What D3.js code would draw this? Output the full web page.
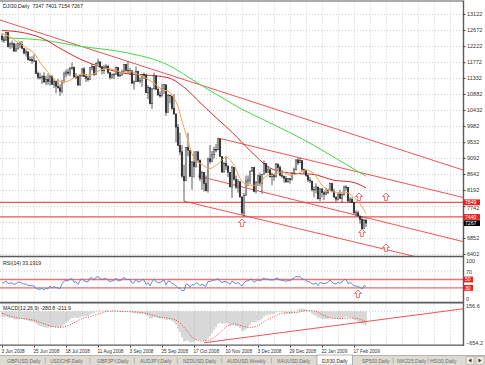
<!DOCTYPE html>
<html><head><meta charset="utf-8">
<script src="https://cdn.jsdelivr.net/npm/d3@7/dist/d3.min.js"></script>
<style>
html,body{margin:0;padding:0;background:#fff;overflow:hidden;}
svg{display:block;font-family:"Liberation Sans","DejaVu Sans",Arial,sans-serif;}
</style></head><body>
<script>
// ---------------- DATA ----------------
// Daily OHLC bars [open, high, low, close], one small array per month
const junBars = [[12503,12580,12340,12403],[12401,12500,12310,12390],[12391,12630,12380,12604],[12602,12604,12180,12210],[12210,12330,12140,12280],[12278,12380,12160,12290],[12288,12320,12060,12084],[12084,12300,12060,12142],[12143,12320,12140,12307],[12305,12360,12170,12269],[12270,12370,12150,12160],[12158,12160,11990,12029],[12028,12140,11930,12063],[12062,12063,11820,11843],[11843,11930,11810,11842],[11842,11940,11730,11807],[11808,11990,11790,11812],[11810,11812,11440,11453],[11452,11510,11290,11347],[11346,11480,11290,11350]];
const julBars = [[11350,11400,11160,11382],[11383,11490,11210,11216],[11216,11390,11130,11289],[11288,11450,11140,11232],[11231,11410,11120,11384],[11384,11390,11140,11147],[11146,11290,11050,11229],[11229,11230,10900,11101],[11100,11300,11030,11055],[11055,11150,10830,10963],[10961,11280,10900,11239],[11238,11510,11180,11447],[11446,11570,11350,11497],[11496,11590,11400,11467],[11466,11640,11380,11603],[11602,11760,11560,11632],[11630,11650,11330,11349],[11349,11470,11300,11371],[11370,11380,11120,11131],[11131,11410,11130,11398],[11397,11600,11360,11584],[11583,11640,11360,11378]];
const augBars = [[11378,11440,11220,11326],[11326,11390,11230,11284],[11284,11630,11280,11616],[11615,11720,11540,11656],[11655,11660,11380,11431],[11432,11760,11420,11734],[11734,11870,11700,11782],[11781,11800,11610,11642],[11641,11670,11430,11533],[11532,11700,11440,11616],[11615,11720,11580,11660],[11659,11700,11440,11479],[11478,11480,11290,11349],[11348,11460,11310,11417],[11416,11470,11300,11430],[11430,11650,11430,11628],[11627,11630,11370,11386],[11386,11460,11360,11413],[11412,11560,11400,11503],[11502,11720,11500,11715],[11714,11720,11520,11544]];
const sepBars = [[11543,11790,11470,11517],[11516,11610,11420,11533],[11532,11540,11160,11188],[11187,11260,11000,11221],[11224,11650,11220,11511],[11510,11530,11220,11231],[11230,11350,11180,11269],[11268,11450,11080,11434],[11433,11480,11300,11422],[11420,11420,10900,10918],[10917,11130,10740,11059],[11058,11060,10590,10610],[10609,11050,10460,11020],[11026,11480,11010,11388],[11388,11400,11000,11016],[11015,11070,10840,10854],[10854,10950,10780,10825],[10825,11170,10820,11022],[11021,11160,10880,11143],[11139,11140,10270,10365],[10368,10880,10360,10851]];
const octBars = [[10847,10870,10620,10831],[10825,10830,10440,10483],[10483,10880,10300,10325],[10322,10330,9530,9956],[9955,10040,9420,9447],[9435,9800,9170,9258],[9262,9450,8540,8579],[8568,8900,7880,8451],[8462,9390,8440,9388],[9388,9800,9140,9311],[9300,9310,8560,8578],[8577,9000,8200,8979],[8975,9280,8540,8852],[8852,9270,8820,9265],[9260,9290,8980,9034],[9032,9040,8440,8519],[8515,8720,8200,8691],[8690,8690,8150,8379],[8379,8600,8150,8176],[8175,9100,8120,9065],[9065,9450,8930,8991],[8990,9290,8970,9181],[9179,9400,9070,9325]];
const novBars = [[9324,9480,9250,9320],[9320,9650,9320,9625],[9617,9630,9120,9139],[9135,9140,8670,8696],[8697,8980,8690,8944],[8940,9140,8760,8871],[8868,8870,8560,8694],[8690,8700,8270,8283],[8280,8870,7970,8835],[8830,8830,8460,8497],[8494,8600,8220,8274],[8272,8500,8120,8425],[8424,8430,7990,7997],[7995,8020,7500,7552],[7550,8110,7450,8046],[8048,8600,8040,8443],[8440,8600,8300,8479],[8470,8730,8360,8727],[8726,8830,8700,8829]];
const decBars = [[8828,8830,8130,8149],[8150,8430,8100,8419],[8415,8620,8300,8592],[8590,8680,8300,8376],[8375,8640,8090,8635],[8637,9020,8630,8934],[8932,8940,8650,8691],[8690,8860,8680,8761],[8758,8800,8540,8565],[8563,8680,8330,8630],[8628,8640,8450,8565],[8566,8950,8540,8924],[8920,8930,8750,8824],[8823,8880,8580,8605],[8605,8750,8540,8579],[8578,8600,8400,8520],[8520,8590,8400,8419],[8420,8530,8400,8516],[8515,8520,8370,8484],[8483,8680,8460,8668],[8668,8820,8660,8776]];
const janBars = [[8772,9060,8740,9035],[9034,9090,8890,8953],[8954,9090,8950,9015],[9014,9015,8720,8770],[8769,8790,8650,8742],[8741,8750,8570,8599],[8599,8610,8420,8474],[8473,8550,8390,8449],[8446,8450,8150,8200],[8198,8290,7990,8212],[8212,8380,8100,8281],[8279,8280,7930,7949],[7949,8240,7880,8228],[8226,8230,7990,8123],[8117,8170,7910,8078],[8078,8260,8040,8116],[8117,8230,8080,8175],[8174,8400,8170,8375],[8373,8380,8130,8149],[8148,8230,7960,8001]];
const febBars = [[7999,8000,7860,7937],[7936,8100,7900,8078],[8079,8200,7940,7957],[7954,8100,7840,8063],[8063,8310,8030,8281],[8280,8330,8180,8271],[8269,8270,7850,7889],[7886,7990,7830,7940],[7932,7990,7830,7850],[7848,7850,7530,7553],[7553,7620,7450,7556],[7555,7620,7450,7466],[7464,7470,7250,7366],[7366,7450,7100,7115],[7116,7390,7100,7351],[7347,7401,7154,7267]];

// Moving averages: [bar index, value]
const maFast = [[0,12580],[4,12480],[8,12321],[12,12183],[16,12027],[20,11693],[24,11427],[28,11239],[32,11229],[36,11335],[40,11448],[44,11407],[48,11519],[52,11595],[56,11564],[60,11488],[64,11509],[68,11438],[72,11324],[76,11186],[80,11013],[84,10932],[86,10772],[88,10525],[90,10124],[92,9757],[94,9378],[96,9080],[98,8970],[100,8907],[104,8795],[108,8927],[112,9116],[116,8890],[120,8437],[124,8328],[128,8323],[132,8583],[136,8617],[140,8708],[144,8607],[148,8656],[152,8756],[156,8645],[160,8326],[164,8174],[168,8126],[172,8129],[176,7982],[180,7729],[182,7535]];
const maMid = [[0,12660],[10,12605],[20,12445],[30,12130],[40,11835],[49,11645],[62,11454],[72,11412],[83,11340],[90,11116],[100,10590],[106,10273],[115,9813],[125,9244],[135,8784],[146,8659],[155,8637],[166,8467],[175,8416],[182,8254]];
const maSlow = [[0,12455],[20,12391],[40,12211],[62,12041],[83,11695],[99,11146],[110,10780],[120,10455],[130,10183],[140,9909],[150,9627],[160,9311],[170,8978],[182,8581]];

// Trend lines [index1, price1, index2, price2]
const trendLines = [[-1,12954,230.5,8754],[108,9650,230.5,7985],[98,8586,230.5,6749],[91,7880,230.5,6010]];
const hLevels = [7849, 7440];
const upArrows = [[120,7270],[180,6990],[178.5,7998],[192,7998],[192,6570]];

// RSI(14) per bar
const rsi = [42.5,41.9,46.8,40.1,41.7,41.9,38.4,40.0,44.2,43.4,41.2,38.7,39.7,35.6,35.5,34.9,35.1,28.6,27.0,27.2,28.5,25.8,29.0,28.0,34.5,29.9,33.3,30.8,30.0,28.3,39.4,46.1,47.6,46.8,51.1,51.9,43.7,44.4,38.5,46.9,51.9,46.7,45.4,44.4,53.4,54.4,48.4,55.5,56.6,52.7,49.9,52.0,53.1,48.1,44.9,46.9,47.3,53.1,46.4,47.2,49.9,55.6,50.6,49.8,50.3,41.1,42.2,50.8,44.0,45.0,49.5,49.2,38.2,42.1,34.6,44.3,51.4,45.2,42.7,42.3,46.3,48.7,37.3,45.9,45.6,41.0,39.0,34.9,30.2,28.6,23.9,23.1,38.8,38.1,32.2,37.9,36.8,42.4,40.3,35.9,38.3,35.7,34.1,45.7,45.0,47.3,49.0,49.0,52.8,46.8,42.1,45.4,44.6,42.6,38.4,46.1,42.6,40.4,42.6,38.3,34.5,41.5,46.5,46.9,50.0,51.2,43.5,46.9,49.1,46.5,49.9,53.5,50.3,51.2,48.5,49.5,48.5,53.8,52.2,48.7,48.3,47.4,45.7,47.6,47.1,50.8,52.9,57.6,55.7,56.9,51.2,50.5,47.4,44.8,44.2,39.2,39.5,41.7,35.3,43.2,41.1,40.3,41.4,43.2,48.9,43.6,40.5,39.1,43.5,40.8,44.0,50.1,49.9,40.9,42.4,40.4,34.7,34.8,33.2,31.4,27.5,35.7,33.2];
const rsiLevels = [50, 30];
const rsiArrows = [[178,15.5]];

// MACD(12,26,9) main per bar, and signal line samples
const macd = [-109,-117,-105,-125,-134,-138,-157,-165,-156,-151,-154,-165,-169,-188,-201,-211,-216,-246,-275,-294,-304,-321,-325,-329,-316,-322,-316,-318,-319,-324,-302,-265,-229,-201,-165,-133,-129,-122,-135,-123,-97,-92,-91,-93,-66,-41,-39,-13,11,19,16,20,27,17,-1,-10,-15,-4,-14,-20,-17,2,3,2,2,-25,-43,-33,-48,-56,-49,-43,-78,-93,-140,-143,-114,-119,-135,-148,-141,-124,-172,-169,-166,-190,-219,-269,-345,-416,-521,-607,-593,-582,-625,-619,-618,-577,-556,-575,-570,-584,-603,-541,-493,-434,-372,-319,-250,-231,-249,-241,-238,-247,-284,-266,-275,-297,-299,-331,-388,-389,-353,-319,-268,-217,-229,-214,-186,-180,-152,-104,-85,-64,-62,-55,-53,-22,-7,-11,-17,-26,-40,-44,-49,-38,-20,15,36,57,53,47,31,7,-13,-49,-76,-90,-127,-132,-143,-153,-156,-152,-131,-131,-141,-153,-150,-155,-149,-125,-105,-119,-125,-135,-165,-187,-209,-232,-260,-262,-281];
const macdSignal = [[0,-40],[4,-95],[8,-134],[12,-154],[16,-179],[20,-234],[24,-292],[28,-319],[32,-301],[36,-230],[40,-148],[44,-105],[48,-58],[52,-7],[56,9],[60,-4],[64,-7],[68,-17],[72,-41],[76,-85],[80,-123],[84,-143],[88,-199],[92,-370],[96,-547],[100,-591],[104,-569],[108,-463],[112,-314],[116,-253],[120,-292],[124,-324],[128,-285],[132,-182],[136,-105],[140,-42],[144,-30],[148,-20],[152,15],[156,10],[160,-66],[164,-129],[168,-146],[172,-138],[176,-136],[180,-171],[182,-212]];
const macdTrend = [101,-630,230.5,50];

// Axis labels
const priceTicks = [13122,12672,12222,11772,11332,10882,10432,9982,9532,9092,8642,8192,7742,7292,6852,6402];
const hiddenPriceLabels = [7292];
const dateTickIdx = [0,16,32,48,64,80,96,112,128,144,160,176];
const dateLabels = ["3 Jun 2008","25 Jun 2008","18 Jul 2008","11 Aug 2008","3 Sep 2008","25 Sep 2008","17 Oct 2008","10 Nov 2008","3 Dec 2008","29 Dec 2008","22 Jan 2009","17 Feb 2009"];
const tabNames = ["GBPUSD,Daily","USDCHF,Daily","GBPJPY,Daily","AUDJPY,Daily","NZDUSD,Daily","AUDUSD,Weekly","XAUUSD,Daily","DJI30,Daily","SP500,Daily","NIK225,Daily","HSI30,Daily"];
const activeTab = "DJI30,Daily";
const headerText = "DJI30,Daily  7347 7401 7154 7267";
const rsiTitle = "RSI(14) 33.1919";
const macdTitle = "MACD(12,26,9) -280.8 -211.9";
const lastPrice = 7267;

// ---------------- DRAWING ----------------
const bars = [].concat(junBars, julBars, augBars, sepBars, octBars, novBars, decBars, janBars, febBars);
const N = bars.length;
const R = 463; // right edge of plot
const svg = d3.select('body').append('svg').attr('width',485).attr('height',365);
svg.append('rect').attr('width',485).attr('height',365).attr('fill','#fff');

const x = d3.scaleLinear().domain([0, N-1]).range([2, 366]);
const yP = d3.scaleLinear().domain([6402, 13122]).range([254, 14]);
const yR = d3.scaleLinear().domain([0, 100]).range([300.5, 258.5]);
const yM = d3.scaleLinear().domain([-654.2, 156.6]).range([344, 303.5]);

const panels = {main:[1.5,256], rsi:[257.5,302], macd:[303.5,345]};
const defs = svg.append('defs');
Object.entries(panels).forEach(([k,[t,b]])=>{
  defs.append('clipPath').attr('id','clip-'+k).append('rect').attr('x',0).attr('y',t).attr('width',R).attr('height',b-t);
});

const gridC = '#c4c4c4';
const gridIdx = d3.range(0, 231, 8);
Object.values(panels).forEach(([t,b])=>{
  svg.append('g').selectAll('line').data(gridIdx).join('line')
    .attr('x1',d=>Math.round(x(d))+0.5).attr('x2',d=>Math.round(x(d))+0.5)
    .attr('y1',t).attr('y2',b).attr('stroke',gridC).attr('stroke-width',0.8).attr('stroke-dasharray','1,2');
});
svg.append('g').selectAll('line').data(priceTicks).join('line')
  .attr('x1',0).attr('x2',R).attr('y1',d=>Math.round(yP(d))+0.5).attr('y2',d=>Math.round(yP(d))+0.5)
  .attr('stroke',gridC).attr('stroke-width',0.8).attr('stroke-dasharray','1,2');
svg.append('g').selectAll('line').data([70,30]).join('line')
  .attr('x1',0).attr('x2',R).attr('y1',d=>yR(d)).attr('y2',d=>yR(d))
  .attr('stroke',gridC).attr('stroke-width',0.8).attr('stroke-dasharray','1,2');
svg.append('line').attr('x1',0).attr('x2',R).attr('y1',yM(0)).attr('y2',yM(0))
  .attr('stroke',gridC).attr('stroke-width',0.8).attr('stroke-dasharray','1,2');

// ---- main panel ----
const gm = svg.append('g').attr('clip-path','url(#clip-main)');
const red = '#e83a3a';
gm.selectAll('line.hl').data(hLevels).join('line').attr('class','hl')
  .attr('x1',0).attr('x2',R).attr('y1',d=>yP(d)).attr('y2',d=>yP(d))
  .attr('stroke',red).attr('stroke-width',1.3).attr('opacity',0.85);
gm.selectAll('line.tl').data(trendLines).join('line').attr('class','tl')
  .attr('x1',d=>x(d[0])).attr('y1',d=>yP(d[1])).attr('x2',d=>x(d[2])).attr('y2',d=>yP(d[3]))
  .attr('stroke',red).attr('stroke-width',1).attr('opacity',0.85);
const maLine = d3.line().x(d=>x(d[0])).y(d=>yP(d[1])).curve(d3.curveMonotoneX);
gm.append('path').attr('d',maLine(maSlow)).attr('fill','none').attr('stroke','#48d848').attr('stroke-width',1);
gm.append('path').attr('d',maLine(maMid)).attr('fill','none').attr('stroke','#d42c2c').attr('stroke-width',1);
gm.selectAll('line.wick').data(bars).join('line').attr('class','wick')
  .attr('x1',(d,i)=>x(i)).attr('x2',(d,i)=>x(i))
  .attr('y1',d=>yP(d[1])).attr('y2',d=>yP(d[2]))
  .attr('stroke','#333').attr('stroke-width',0.8);
gm.selectAll('rect.body').data(bars).join('rect').attr('class','body')
  .attr('x',(d,i)=>x(i)-0.8).attr('width',1.6)
  .attr('y',d=>yP(Math.max(d[0],d[3])))
  .attr('height',d=>Math.max(0.7, Math.abs(yP(d[0])-yP(d[3]))))
  .attr('fill',d=>d[3]>=d[0]?'#f4f4f4':'#222').attr('stroke','#333').attr('stroke-width',0.5);
gm.append('path').attr('d',maLine(maFast)).attr('fill','none').attr('stroke','#f0a458').attr('stroke-width',1);
const arrowShape = 'M0,-4 L3.5,-0.5 L1.4,-0.5 L1.4,3.5 L-1.4,3.5 L-1.4,-0.5 L-3.5,-0.5 Z';
gm.selectAll('path.arr').data(upArrows).join('path').attr('class','arr')
  .attr('transform',d=>`translate(${x(d[0])},${yP(d[1])})`).attr('d',arrowShape)
  .attr('fill','#fff').attr('stroke','#e85050').attr('stroke-width',0.8);

// ---- RSI panel ----
const gr = svg.append('g').attr('clip-path','url(#clip-rsi)');
gr.selectAll('line').data(rsiLevels).join('line')
  .attr('x1',0).attr('x2',R).attr('y1',d=>yR(d)).attr('y2',d=>yR(d))
  .attr('stroke','#ee5050').attr('stroke-width',1.4).attr('opacity',0.8);
gr.append('path').datum(rsi).attr('d',d3.line().x((d,i)=>x(i)).y(d=>yR(d)))
  .attr('fill','none').attr('stroke','#4a86d8').attr('stroke-width',0.9);
gr.selectAll('path.arr').data(rsiArrows).join('path').attr('class','arr')
  .attr('transform',d=>`translate(${x(d[0])},${yR(d[1])})`).attr('d',arrowShape)
  .attr('fill','#fff').attr('stroke','#e85050').attr('stroke-width',0.8);

// ---- MACD panel ----
const gmc = svg.append('g').attr('clip-path','url(#clip-macd)');
gmc.selectAll('line.h').data(macd).join('line').attr('class','h')
  .attr('x1',(d,i)=>x(i)).attr('x2',(d,i)=>x(i)).attr('y1',yM(0)).attr('y2',d=>yM(d))
  .attr('stroke','#a8a8a8').attr('stroke-width',0.9);
gmc.append('path').attr('d',d3.line().x(d=>x(d[0])).y(d=>yM(d[1])).curve(d3.curveMonotoneX)(macdSignal))
  .attr('fill','none').attr('stroke','#e03030').attr('stroke-width',0.9).attr('stroke-dasharray','1,1.5');
gmc.append('line').attr('x1',x(macdTrend[0])).attr('y1',yM(macdTrend[1])).attr('x2',x(macdTrend[2])).attr('y2',yM(macdTrend[3]))
  .attr('stroke',red).attr('stroke-width',1).attr('opacity',0.85);

// ---- frames ----
const frame = '#5a5a5a';
svg.append('line').attr('x1',0).attr('x2',R).attr('y1',1).attr('y2',1).attr('stroke',frame).attr('stroke-width',1.2);
[[256.5,1.6],[302.6,1.6],[345.2,1.2]].forEach(([y,w])=>svg.append('line').attr('x1',0).attr('x2',R).attr('y1',y).attr('y2',y).attr('stroke',frame).attr('stroke-width',w));
svg.append('line').attr('x1',R+0.5).attr('x2',R+0.5).attr('y1',0.5).attr('y2',346).attr('stroke',frame).attr('stroke-width',1.4);

// ---- texts ----
const fs = 5.5, tc = '#333';
const axisFont = (g,s) => g.attr('font-size',s).attr('font-family','"Liberation Sans",Arial,sans-serif');
const axP = d3.axisRight(yP).tickValues(priceTicks)
  .tickFormat(d=>hiddenPriceLabels.includes(d)?'':d3.format('d')(d)).tickSize(2).tickPadding(1.5);
svg.append('g').attr('transform',`translate(${R+0.5},0)`).call(axP).call(axisFont, fs)
  .call(g=>{g.select('.domain').remove(); g.selectAll('line').attr('stroke','#444'); g.selectAll('text').attr('fill',tc);
    // label partly tucked under the level box, as on screen
    g.selectAll('.tick').filter(d=>d===7742).select('text').attr('dy','0.62em');});

function box(y, txt, bg, w){
  svg.append('rect').attr('x',R+1).attr('y',y-2.9).attr('width',w).attr('height',5.8).attr('fill',bg);
  svg.append('text').attr('x',R+2).attr('y',y+1.9).attr('font-size',5.1).attr('fill','#fff').text(txt);
}
hLevels.forEach(v=>box(yP(v), String(v), '#f02020', 16));
box(yP(lastPrice), String(lastPrice), '#000', 16);

const rsiLab = [[100,'100',2],[70,'70',0.5],[0,'0',-1.5]];
svg.append('g').selectAll('text').data(rsiLab).join('text')
  .attr('x',R+3).attr('y',d=>yR(d[0])+d[2]+2).attr('font-size',fs).attr('fill',tc).text(d=>d[1]);
rsiLevels.forEach(v=>{
  svg.append('rect').attr('x',R+1).attr('y',yR(v)-2.9).attr('width',9).attr('height',5.8).attr('fill','#f02020');
  svg.append('text').attr('x',R+2).attr('y',yR(v)+1.9).attr('font-size',5.1).attr('fill','#fff').text(v);
});
const macdDom = yM.domain();
svg.append('text').attr('x',R+3).attr('y',yM(macdDom[1])+4.5).attr('font-size',fs).attr('fill',tc).text(d3.format('.1f')(macdDom[1]));
svg.append('text').attr('x',R+3).attr('y',yM(macdDom[0])+0.5).attr('font-size',fs).attr('fill',tc).text(d3.format('.1f')(macdDom[0]));

svg.append('text').attr('x',3).attr('y',8).attr('font-size',5.2).attr('fill','#222').attr('xml:space','preserve').text(headerText);
svg.append('text').attr('x',3).attr('y',265).attr('font-size',5.2).attr('fill','#222').text(rsiTitle);
svg.append('text').attr('x',3).attr('y',310).attr('font-size',5.2).attr('fill','#222').text(macdTitle);

const axD = d3.axisBottom(x).tickValues(dateTickIdx).tickFormat((d,i)=>dateLabels[i]).tickSize(2).tickPadding(2);
svg.append('g').attr('transform','translate(0,345.5)').call(axD).call(axisFont, 4.7)
  .call(g=>{g.select('.domain').remove(); g.selectAll('line').attr('stroke','#444');
    g.selectAll('text').attr('text-anchor','start').attr('dx',-1).attr('fill',tc);});

// tab bar
svg.append('rect').attr('x',0).attr('y',355.5).attr('width',485).attr('height',9.5).attr('fill','#dedbd2');
svg.append('line').attr('x1',0).attr('x2',485).attr('y1',355.5).attr('y2',355.5).attr('stroke','#a8a49a').attr('stroke-width',0.8);
const tabG = svg.append('g');
const tabStart = [7,50,97,140,183,227,277,322,362,397,430];
const tabEnds = [];
tabNames.forEach((name,i)=>{
  const t = tabG.append('text').attr('x',tabStart[i]).attr('y',362.6).attr('font-size',5)
    .attr('fill', name===activeTab?'#222':'#6a6a6a').text(name);
  const w = t.node().getComputedTextLength();
  tabEnds.push(tabStart[i]+w);
  if(name===activeTab){
    tabG.insert('rect','text').attr('x',tabStart[i]-5).attr('y',355).attr('width',w+10).attr('height',10)
      .attr('fill','#fff').attr('stroke','#888').attr('stroke-width',0.6);
  }
});
tabNames.forEach((name,i)=>{
  if(i<tabNames.length-1 && name!==activeTab && tabNames[i+1]!==activeTab){
    const sx = (tabEnds[i]+tabStart[i+1])/2;
    tabG.append('line').attr('x1',sx).attr('x2',sx).attr('y1',357.5).attr('y2',363.5).attr('stroke','#999').attr('stroke-width',0.6);
  }
});
[[466,-1],[476,1]].forEach(([bx,dir])=>{
  svg.append('rect').attr('x',bx).attr('y',356.5).attr('width',8).attr('height',8).attr('fill','#ece9e0').attr('stroke','#999').attr('stroke-width',0.5);
  const cx = bx+4, cy = 360.5;
  svg.append('path').attr('d',`M${cx-1.5*dir},${cy-2} L${cx+1.5*dir},${cy} L${cx-1.5*dir},${cy+2} Z`).attr('fill','#333');
});
</script>
</body></html>
